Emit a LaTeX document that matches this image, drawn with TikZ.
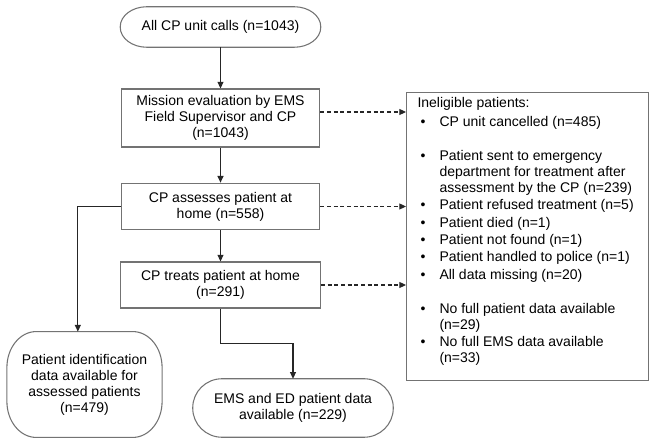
\documentclass[tikz,border=0pt]{standalone}
\usepackage{fontspec}
\setmainfont{Liberation Sans}
\usetikzlibrary{arrows.meta}
\newcommand\lbul{\hspace*{2.25pt}\textbullet}
\newcommand\termframe[3]{%
  \draw[outline] ([xshift=#2]#1.north west) -- ([xshift=-#2]#1.north east)
    arc[start angle=90, end angle=0, x radius=#2, y radius=#3]
    -- ([yshift=#3]#1.south east)
    arc[start angle=0, end angle=-90, x radius=#2, y radius=#3]
    -- ([xshift=#2]#1.south west)
    arc[start angle=270, end angle=180, x radius=#2, y radius=#3]
    -- ([yshift=-#3]#1.north west)
    arc[start angle=180, end angle=90, x radius=#2, y radius=#3] -- cycle;}
\begin{document}
\begin{tikzpicture}[x=0.75pt,y=-0.75pt,
  font=\fontsize{10.5}{12}\selectfont,
  outline/.style={draw=black!55, line width=0.8pt},
  box/.style={outline, align=center, inner sep=2pt},
  term/.style={align=center, inner sep=2pt},
  flow/.style={draw=black!85, line width=0.8pt, -{Triangle[length=5pt,width=4.5pt]}},
  skip/.style={flow, dash pattern=on 3pt off 2pt}]
\useasboundingbox (0,0) rectangle (657,448);
\node[term, minimum width=150pt, minimum height=30pt] (calls) at (220.5,27) {All CP unit calls (n=1043)};
\node[box, minimum width=149pt, minimum height=43.5pt] (mis) at (220.5,118) {Mission evaluation by EMS\\Field Supervisor and CP\\(n=1043)};
\node[box, minimum width=149pt, minimum height=35pt] (ass) at (220.5,206.5) {CP assesses patient at\\home (n=558)};
\node[box, minimum width=150pt, minimum height=34.5pt] (trt) at (220.5,285) {CP treats patient at home\\(n=291)};
\node[term, minimum width=116pt, minimum height=79pt] (idn) at (84.5,384.5) {Patient identification\\data available for\\assessed patients\\(n=479)};
\node[term, minimum width=150pt, minimum height=43.5pt] (eds) at (293,408) {EMS and ED patient data\\available (n=229)};
\node[box, anchor=north west, inner xsep=8.25pt, inner ysep=3pt, align=left] (inel) at (406,92) {\parbox[t][210pt][t]{165pt}{%
\begin{tabular}{@{}p{16.5pt}@{}l@{}}
\multicolumn{2}{@{}l@{}}{Ineligible patients:}\\[2pt]
\lbul & CP unit cancelled (n=485)\\[13.5pt]
\lbul & Patient sent to emergency\\
 & department for treatment after\\
 & assessment by the CP (n=239)\\[1pt]
\lbul & Patient refused treatment (n=5)\\[1pt]
\lbul & Patient died (n=1)\\[1pt]
\lbul & Patient not found (n=1)\\[1pt]
\lbul & Patient handled to police (n=1)\\[1pt]
\lbul & All data missing (n=20)\\[13.5pt]
\lbul & No full patient data available\\
 & (n=29)\\[1pt]
\lbul & No full EMS data available\\
 & (n=33)
\end{tabular}}};
\termframe{calls}{20pt}{15pt}
\termframe{idn}{22pt}{27pt}
\termframe{eds}{22pt}{21.75pt}
\path[flow] (calls) -- (mis);
\path[flow] (mis) -- (ass);
\path[flow] (ass) -- (trt);
\coordinate (m1) at ([yshift=4.5pt]mis.east);
\path[skip] (m1) -- (m1 -| inel.west);
\path[skip] (ass.east) -- (ass.east -| inel.west);
\path[skip] (trt.east) -- (trt.east -| inel.west);
\path[flow] (ass.west) -| ([xshift=-5pt]idn.north);
\path[flow] (trt.south) -- ++(0,35) -| (eds.north);
\end{tikzpicture}
\end{document}
